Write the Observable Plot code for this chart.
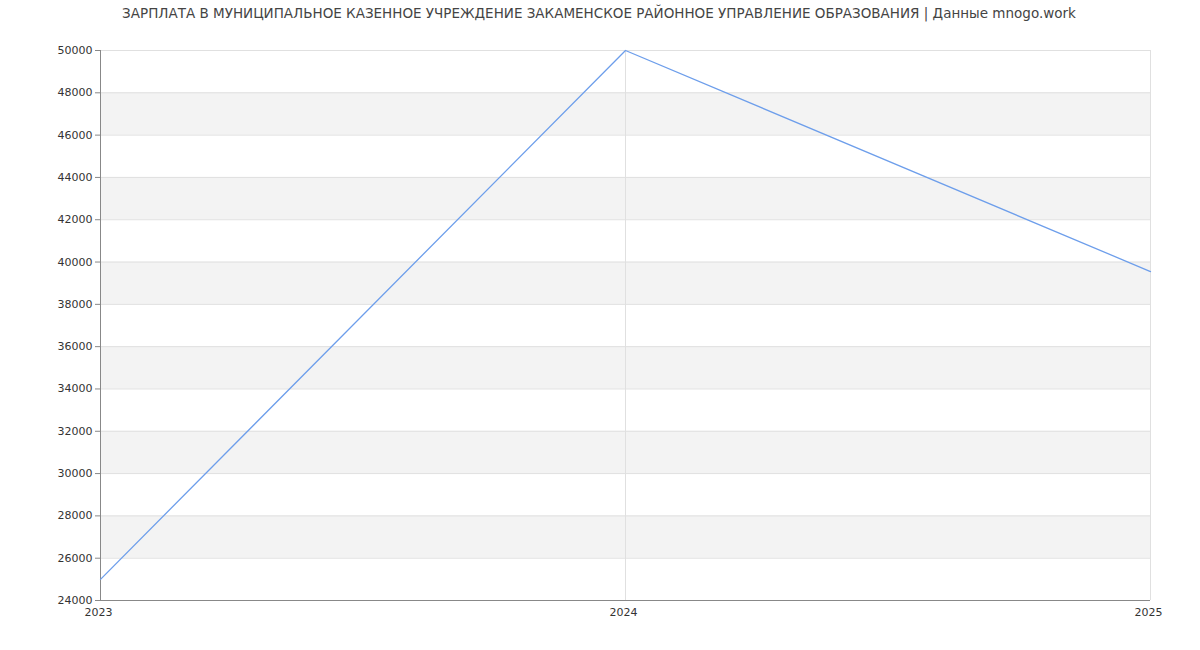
<!DOCTYPE html>
<html>
<head>
<meta charset="utf-8">
<script src="https://cdn.jsdelivr.net/npm/d3@7"></script>
<script src="https://cdn.jsdelivr.net/npm/@observablehq/plot@0.6"></script>
<style>
  body { margin: 0; background: #fff; font-family: "DejaVu Sans", sans-serif; }
  #wrap { position: relative; width: 1200px; height: 650px; }
  #title { position: absolute; top: 5px; left: 0; width: 1198px; text-align: center; font-size: 13.5px; color: #444; }
</style>
</head>
<body>
<div id="wrap">
  <div id="title">ЗАРПЛАТА В МУНИЦИПАЛЬНОЕ КАЗЕННОЕ УЧРЕЖДЕНИЕ ЗАКАМЕНСКОЕ РАЙОННОЕ УПРАВЛЕНИЕ ОБРАЗОВАНИЯ | Данные mnogo.work</div>
  <div id="chart"></div>
</div>
<script>
const years = [2023, 2024, 2025];
const salaries = [25000, 50000, 39550];
const yTicks = [24000, 26000, 28000, 30000, 32000, 34000, 36000, 38000, 40000, 42000, 44000, 46000, 48000, 50000];
const xTicks = [2023, 2024, 2025];

const series = years.map((y, i) => ({year: y, value: salaries[i]}));
const bands = [];
for (let i = 0; i < yTicks.length - 1; i++) {
  if (i % 2 === 1) bands.push({y1: yTicks[i], y2: yTicks[i + 1]});
}

const chart = Plot.plot({
  width: 1200,
  height: 650,
  marginLeft: 100,
  marginRight: 50,
  marginTop: 50,
  marginBottom: 50,
  style: {fontFamily: "DejaVu Sans, sans-serif", fontSize: "11px", color: "#333", background: "#fff"},
  x: {domain: [2023, 2025], ticks: xTicks, tickFormat: d => String(d), label: null},
  y: {domain: [24000, 50000], ticks: yTicks, tickFormat: d => String(d), label: null},
  marks: [
    Plot.rectY(bands, {x1: 2023, x2: 2025, y1: "y1", y2: "y2", fill: "#f3f3f3"}),
    Plot.ruleY(yTicks, {stroke: "#e0e0e0", strokeWidth: 1}),
    Plot.ruleX(xTicks.slice(1), {stroke: "#e0e0e0", strokeWidth: 1}),
    Plot.axisY({ticks: yTicks, tickFormat: d => String(d), tickSize: 5, tickPadding: 3, stroke: "#888", label: null, fill: "#333"}),
    Plot.axisX({ticks: xTicks, tickFormat: d => String(d), tickSize: 0, tickPadding: 8, dx: -2, label: null, fill: "#333"}),
    Plot.ruleX([2023], {stroke: "#888"}),
    Plot.ruleY([24000], {stroke: "#888"}),
    Plot.line(series, {x: "year", y: "value", stroke: "#6d9eeb", strokeWidth: 1.3})
  ]
});
document.getElementById("chart").appendChild(chart);
</script>
</body>
</html>
